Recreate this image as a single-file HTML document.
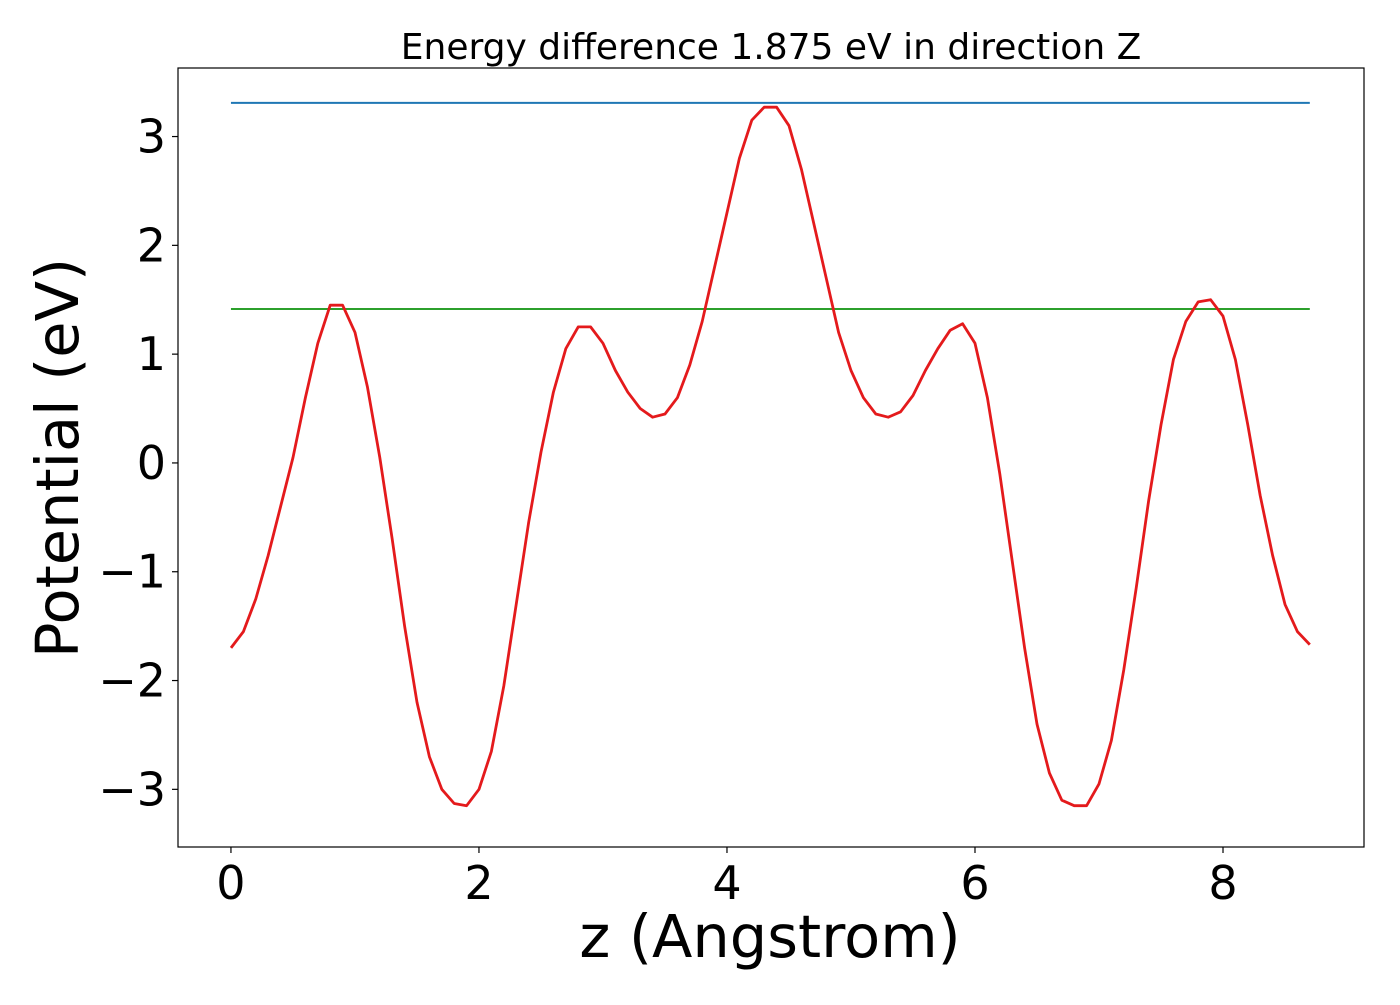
<!DOCTYPE html>
<html><head><meta charset="utf-8"><style>
body{margin:0;background:#fff}
svg text{font-family:"DejaVu Sans","Liberation Sans",sans-serif;fill:#000}
</style></head><body>
<svg id="chart" width="1400" height="1000" xmlns="http://www.w3.org/2000/svg">
<rect x="0" y="0" width="1400" height="1000" fill="#fff"/>
<text x="771" y="59" font-size="36" text-anchor="middle">Energy difference 1.875 eV in direction Z</text>
<g id="plot"></g>
<rect x="178" y="68" width="1186" height="779" fill="none" stroke="#000" stroke-width="1.2"/>
<text x="770" y="957" font-size="59" text-anchor="middle">z (Angstrom)</text>
<text transform="translate(78,458) rotate(-90)" font-size="59" text-anchor="middle">Potential (eV)</text>
</svg>
<script>
const zStep = 0.1;
const potential = [-1.70,-1.55,-1.25,-0.85,-0.40,0.05,0.60,1.10,1.45,1.45,1.20,0.70,0.05,-0.70,-1.50,-2.20,-2.70,-3.00,-3.13,-3.15,-3.00,-2.65,-2.05,-1.30,-0.55,0.10,0.65,1.05,1.25,1.25,1.10,0.85,0.65,0.50,0.42,0.45,0.60,0.90,1.30,1.80,2.30,2.80,3.15,3.27,3.27,3.10,2.70,2.20,1.70,1.20,0.85,0.60,0.45,0.42,0.47,0.62,0.85,1.05,1.22,1.28,1.10,0.60,-0.10,-0.90,-1.70,-2.40,-2.85,-3.10,-3.15,-3.15,-2.95,-2.55,-1.90,-1.15,-0.35,0.35,0.95,1.30,1.48,1.50,1.35,0.95,0.35,-0.30,-0.85,-1.30,-1.55,-1.67];
const blueLevel = 3.31;
const greenLevel = 1.415;
const xTicks = [0,2,4,6,8];
const yTicks = [-3,-2,-1,0,1,2,3];
const xMin=-0.427,xMax=9.137,yMin=-3.53,yMax=3.63;
const L=178,R=1364,T=68,B=847;
const sx=v=>L+(v-xMin)/(xMax-xMin)*(R-L);
const sy=v=>B-(v-yMin)/(yMax-yMin)*(B-T);
const NS="http://www.w3.org/2000/svg";
const svg=document.getElementById('chart');
const plot=document.getElementById('plot');
function mk(t,a,p){const e=document.createElementNS(NS,t);for(const k in a)e.setAttribute(k,a[k]);(p||svg).appendChild(e);return e;}
const zEnd=(potential.length-1)*zStep;
const b=mk('line',{x1:sx(0),x2:sx(zEnd),y1:sy(blueLevel),y2:sy(blueLevel),stroke:'#1f77b4','stroke-width':2},plot);


const g=mk('line',{x1:sx(0),x2:sx(zEnd),y1:sy(greenLevel),y2:sy(greenLevel),stroke:'#2ca02c','stroke-width':2},plot);


const pts=potential.map((v,i)=>sx(i*zStep).toFixed(1)+','+sy(v).toFixed(1)).join(' ');
const c=mk('polyline',{points:pts,fill:'none',stroke:'#e41a1c','stroke-width':2.8,'stroke-linejoin':'round'},plot);


xTicks.forEach(v=>{
  const t=mk('line',{x1:sx(v),x2:sx(v),y1:B,y2:B+6,stroke:'#000','stroke-width':1.2});
  
  
  const l=mk('text',{x:sx(v),y:B+52,'font-size':46,'text-anchor':'middle'});
  l.textContent=String(v);
  
  
});
yTicks.forEach(v=>{
  const t=mk('line',{x1:L-6,x2:L,y1:sy(v),y2:sy(v),stroke:'#000','stroke-width':1.2});
  
  
  const l=mk('text',{x:L-12,y:sy(v)+16,'font-size':46,'text-anchor':'end'});
  l.textContent=(v<0?'\u2212':'')+Math.abs(v);
  
  
});
</script>
</body></html>
